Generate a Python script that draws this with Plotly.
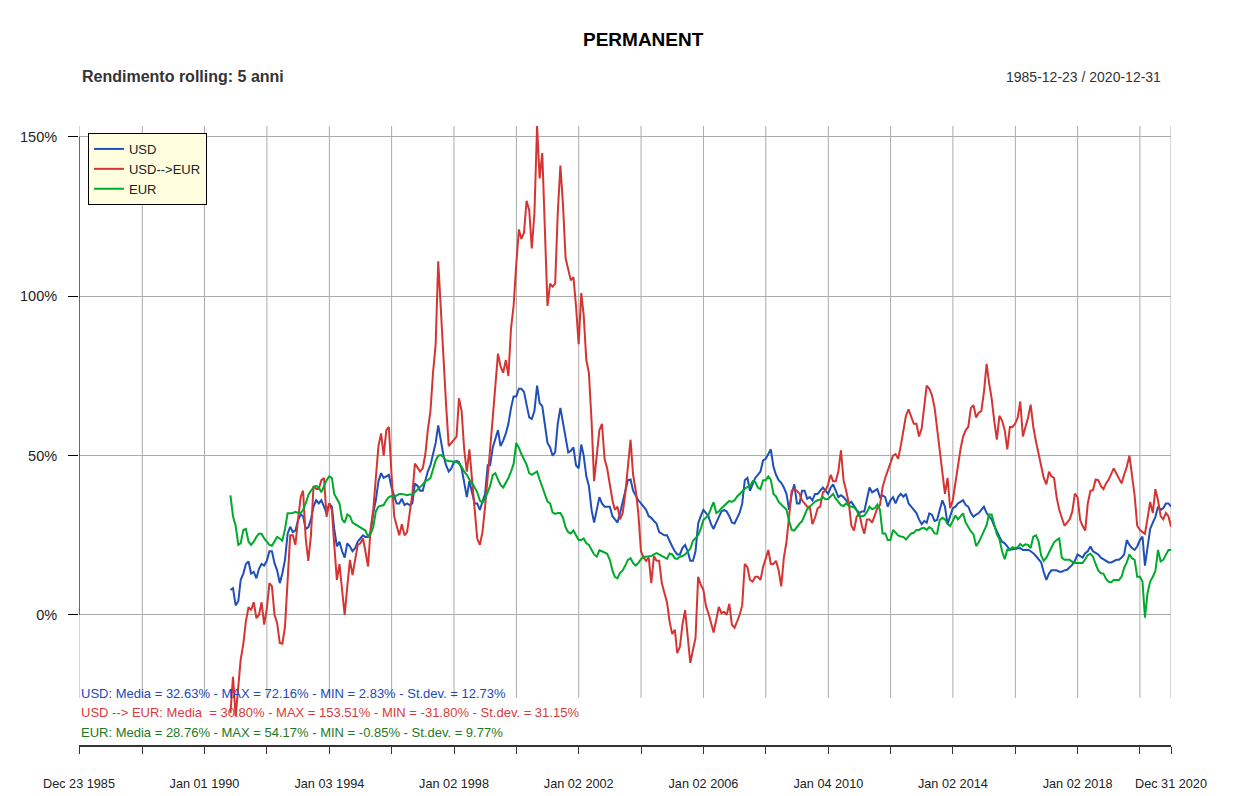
import pandas as pd
import plotly.graph_objects as go

# 5-year rolling return, monthly (Nov 1990 .. Dec 2020) + last day
dates = list(pd.date_range("1990-11-01", "2020-12-01", freq="MS")) + [pd.Timestamp("2020-12-31")]

usd = [
    7.9, 8.4,                                                                # 1990
    3, 4.3, 11, 13, 16, 16.8, 13, 13.5, 11.5, 14.5, 16, 15.5,                # 1991
    17, 20, 20, 16.2, 14, 10, 13, 17.3, 25.5, 27.7, 26, 26.5,                # 1992
    29.8, 31.5, 31, 27, 27.5, 30, 34, 36, 35, 36, 34, 31.9,                  # 1993
    35, 34, 27, 21.5, 23, 20, 18, 22.5, 21.5, 20, 21, 23,                    # 1994
    24, 25, 24.5, 24.5, 26, 32, 36, 42, 44.5, 43, 43.5, 44,                  # 1995
    40, 37, 35, 35, 36.5, 34.5, 35, 34.5, 35, 41.3, 40.5, 39,                # 1996
    39, 42.3, 45, 47, 50, 54, 59.5, 55, 50, 47, 45, 46,                      # 1997
    48, 48.4, 48, 46, 42, 37, 42, 38, 35, 35, 33, 35.5,                      # 1998
    38, 47, 47, 52.6, 55, 58, 53, 54.7, 57, 60, 65, 68.6,                    # 1999
    68.6, 71, 71, 70, 66, 62, 61.5, 64, 72, 66.5, 65.5, 60,                  # 2000
    54, 52.6, 50, 51, 60, 65, 60, 55, 51, 51.5, 52.6, 47,                    # 2001
    46, 53.5, 50, 43.5, 40.5, 33, 29, 33, 37, 35, 34, 34,                    # 2002
    34, 31, 30, 29, 32, 35.5, 39, 42.3, 42.5, 39, 37.5, 36,                  # 2003
    35, 34, 33, 31, 30.5, 29.5, 28.7, 26, 25.6, 25, 25, 23,                  # 2004
    21.5, 20, 19, 19, 21, 22, 20, 17, 17, 20, 28.7, 31,                      # 2005
    33, 32, 31, 28.5, 27, 29, 31, 32.5, 33, 32.5, 31, 29,                    # 2006
    28.7, 30.5, 32, 35, 42.3, 43, 39, 41, 43, 44, 45, 48.5,                  # 2007
    49, 50.5, 52, 46.5, 44, 42.3, 41.5, 40, 38, 33, 38, 41,                  # 2008
    35, 35, 39, 39, 36.5, 37, 36, 38, 38, 39, 40, 39,                        # 2009
    38, 40, 41, 39, 37, 37.6, 37, 36, 35, 35.5, 34, 33,                      # 2010
    32, 32.5, 32.5, 36, 40, 38.5, 39, 39.5, 37, 37.5, 37, 34,                # 2011
    36, 37, 35, 37, 38, 37.1, 38, 35, 34, 33, 32, 30,                        # 2012
    28.5, 29.5, 29, 31.9, 31.5, 29.5, 29.8, 33, 36, 34, 28.5, 31,            # 2013
    33.5, 34, 35, 35.5, 36, 34.5, 34, 32, 30.8, 31.5, 32, 33,                # 2014
    34, 32, 31, 30, 28, 26.5, 24.6, 23, 22.5, 21.5, 20.4, 20.6,              # 2015
    20.8, 20.8, 21, 20.4, 20.4, 20.5, 20, 19.4, 18.5, 17.5, 16.5, 13.5,      # 2016
    11, 13, 14, 14, 14, 13.6, 13.6, 14, 14.2, 15, 15.8, 17,                  # 2017
    19, 18.5, 18, 19.4, 20, 21.5, 20, 19.5, 19, 18, 17.5, 16.8,              # 2018
    16.5, 16.5, 17, 17.3, 17.3, 18, 19, 23.5, 22, 21, 20.4, 21.5,            # 2019
    23.5, 24.6, 15.5, 21, 27, 29, 30.8, 34, 33, 33.5, 35, 35,                # 2020
    34,
]

usd_eur = [
    -30.7, -19.4,                                                            # 1990
    -31.8, -22, -14, -9, -2, 2.5, 1.5, 4, -1, 0, 4, -3,                      # 1991
    2, 10, 9, 0, -2.5, -8.8, -9, -3.7, 12, 25, 25, 22,                       # 1992
    30, 37, 39, 24, 17, 25, 40.5, 39.5, 39.5, 42.3, 43, 30.8,                # 1993
    35, 33, 22, 11, 16, 8, 0, 9, 17.3, 12.5, 18, 22,                         # 1994
    22.5, 24, 20, 15.2, 27, 33, 43, 53, 57, 50, 58, 59,                      # 1995
    44, 31, 28, 25, 28.5, 25, 26, 33, 38, 47.5, 46, 45,                      # 1996
    46, 50.6, 58, 64, 76, 85, 111, 96, 78, 66, 53, 54,                       # 1997
    55, 56, 68, 64, 52, 45, 52, 42, 31, 24, 22, 26,                          # 1998
    34, 45, 52, 62, 71, 82, 78, 76, 80, 75, 90, 97,                          # 1999
    110, 121, 118, 120, 130, 127, 115, 126, 153.5, 137, 145, 117.5,          # 2000
    97, 104, 103, 104, 126, 141, 129, 112, 108, 105, 106, 97,                # 2001
    85, 101, 94, 80, 76, 61, 42, 50, 58, 60, 49, 46,                         # 2002
    41, 36, 33, 34, 30, 32, 38, 47, 55, 44, 39, 32,                          # 2003
    20, 18, 17, 18, 10, 18.5, 17, 17, 10, 7, 4, -2,                          # 2004
    -6, -4.6, -12, -10, -3, 1.5, -7, -15, -11, -7.2, 12, 9.5,                # 2005
    7.9, 2.7, 0.6, -3, -5.5, -1.5, 2.5, 0.6, 1, 0, 3.5, -3,                  # 2006
    -4, -2, 0, 3, 16, 15, 11, 10.5, 12, 12, 11, 15,                          # 2007
    18, 20.4, 16, 16, 17, 14, 9, 18, 23, 32, 39, 39.5,                       # 2008
    39, 38, 36, 35, 34, 34, 28.5, 30.5, 33.5, 34, 38.5, 39,                  # 2009
    41, 44, 42, 42, 45, 51.7, 42.3, 39, 35, 28, 26.5, 30.8,                  # 2010
    32, 28, 25.5, 30, 30, 29, 31, 33.5, 34.5, 40, 43, 45.5,                  # 2011
    48, 50, 50.5, 49, 53, 58.5, 62.5, 64.5, 62.5, 60, 60, 56,                # 2012
    58.5, 65, 72, 71, 69, 65.2, 58, 52, 44.4, 38, 43, 33.5,                  # 2013
    36, 42, 46, 52, 55.9, 58, 59, 65, 65.8, 62, 63.5, 64,                    # 2014
    70, 78.8, 73, 68, 61, 55, 62.5, 61, 58, 52, 59, 59,                      # 2015
    60, 62, 67, 56, 59, 62, 66, 59, 54.5, 50.6, 46, 43,                      # 2016
    41, 45, 43.5, 43, 37, 33, 30.5, 28, 29, 30, 32.5, 38.1,                  # 2017
    37, 29.8, 28, 26.5, 35, 39, 39.2, 42.5, 42.3, 40.5, 39.5, 41.3,          # 2018
    42.5, 44.4, 46, 44.4, 43, 41.3, 44, 46.5, 50, 43, 37.5, 28,              # 2019
    26.7, 26, 25.5, 30.5, 35.5, 32, 39.5, 36, 31, 30, 32, 31,                # 2020
    27.7,
]

eur = [
    37.5, 31,                                                                # 1990
    28, 22, 22.5, 26.7, 27, 23, 22, 23, 24.5, 25.5, 25.5, 24,                # 1991
    23, 22, 21.7, 23, 24.5, 24, 23.3, 27, 31.9, 31.9, 32, 32.4,              # 1992
    32, 32, 33, 35, 37.6, 39, 40, 40.5, 40, 38.5, 40.5, 42.3,                # 1993
    43.5, 43, 38, 36.5, 35, 30, 29, 31.5, 31, 29, 28.5, 28,                  # 1994
    27.5, 27, 26.5, 24.6, 25.4, 27.5, 32.5, 34, 34.3, 34.5, 36, 37,          # 1995
    37.3, 37.2, 37.5, 38, 38, 37.7, 37.6, 37.8, 37.9, 38.5, 39.3, 40,        # 1996
    41, 42, 42.3, 43, 46, 48.5, 50, 50.2, 49.5, 48.5, 48.3, 48.2,            # 1997
    48, 48, 47.5, 46.5, 45, 44, 42.5, 41.5, 40, 38.5, 35.9, 35.2,            # 1998
    36.5, 38.5, 40.5, 44, 44.5, 42.5, 40.8, 40, 41.5, 43, 45, 47.4,          # 1999
    54, 52.5, 50.5, 49, 47.2, 44.5, 44, 44.5, 45, 42.5, 40, 37.5,            # 2000
    35.6, 35, 32.2, 31.7, 32, 32, 30.6, 27.5, 26, 25.6, 26.5, 25,            # 2001
    23.5, 23.5, 24, 22.5, 22, 20.5, 19, 18.3, 20.3, 20, 19.7, 19.2,          # 2002
    17.3, 14, 12, 11.5, 13.2, 14, 15.5, 17.3, 17.8, 16.3, 15.5, 16.3,        # 2003
    17.5, 18.3, 18.3, 18.3, 18.5, 19, 19.4, 19, 18.5, 18, 17.6, 19.3,        # 2004
    19, 17.8, 17.6, 18.3, 18.5, 19, 19.8, 20.8, 23.3, 24.3, 25, 27,          # 2005
    29.8, 30.6, 31.3, 33.5, 35.4, 32, 32.5, 33.5, 34.3, 35, 35.8, 35.5,      # 2006
    36, 37.2, 38, 38.8, 39.6, 40.2, 40.3, 42, 41.7, 40, 39.5, 42.3,          # 2007
    42.3, 43.5, 42.5, 38, 37.2, 35.5, 34.6, 34, 33, 29.5, 26.7, 26.5,        # 2008
    27.8, 28.7, 29.4, 31.5, 33.2, 34, 34.8, 35.6, 36, 36.2, 37, 36.3,        # 2009
    36.4, 37.3, 38, 36.5, 35.5, 34.5, 34.2, 35, 34.3, 34, 33.7, 32.9,        # 2010
    31, 31, 31.2, 32.3, 34, 33.2, 33.5, 34.7, 33, 25.6, 25.6, 23.5,          # 2011
    23.5, 26.7, 26, 25, 24.6, 24.5, 23.7, 24.8, 25.6, 25.8, 26.7, 26.7,      # 2012
    27.2, 27.3, 26.7, 27.6, 27, 25.6, 25.5, 29.8, 30.5, 30, 28.5, 27.9,      # 2013
    29.5, 31.2, 30, 31, 31.9, 29, 27.7, 26.2, 25.3, 21.6, 22.8, 24.6,        # 2014
    26, 28.2, 31.5, 31.5, 28.5, 25.3, 23.8, 20, 17.5, 20.5, 20.4, 21.3,      # 2015
    21, 21.3, 22.3, 21.6, 22.2, 22, 21, 24.6, 25, 23.2, 18.7, 17,            # 2016
    18, 19.8, 21.3, 22.8, 23.5, 24, 18, 17.3, 17.3, 17.3, 16.7, 16.3,        # 2017
    16.3, 16.3, 16.3, 17.5, 18.8, 19.2, 18.3, 16, 14, 13.1, 13, 11.3,        # 2018
    10.4, 10.3, 11, 11, 11, 12, 14.8, 16.5, 19, 17.8, 17.3, 12,              # 2019
    12, 10.5, -0.85, 7, 10.5, 12, 13.8, 20.4, 16.8, 17.3, 19, 20.4,          # 2020
    20.4,
]

assert len(usd) == len(usd_eur) == len(eur) == len(dates)

tick_dates = ["1985-12-23", "1988-01-04", "1990-01-01", "1992-01-02", "1994-01-03",
              "1996-01-02", "1998-01-02", "2000-01-03", "2002-01-02", "2004-01-02",
              "2006-01-02", "2008-01-02", "2010-01-04", "2012-01-03", "2014-01-02",
              "2016-01-04", "2018-01-02", "2020-01-02", "2020-12-31"]
tick_text = ["Dec 23 1985", "", "Jan 01 1990", "", "Jan 03 1994", "", "Jan 02 1998", "",
             "Jan 02 2002", "", "Jan 02 2006", "", "Jan 04 2010", "", "Jan 02 2014", "",
             "Jan 02 2018", "", "Dec 31 2020"]

stats = [
    ("USD: Media = 32.63% - MAX = 72.16% - MIN = 2.83% - St.dev. = 12.73%", "#2249B8"),
    ("USD --> EUR: Media  = 30.80% - MAX = 153.51% - MIN = -31.80% - St.dev. = 31.15%", "#D93B3B"),
    ("EUR: Media = 28.76% - MAX = 54.17% - MIN = -0.85% - St.dev. = 9.77%", "#1C7A1C"),
]

FONT = "Liberation Sans, Arial, sans-serif"
series = [("USD", usd, "#1F4FB8"), ("USD-->EUR", usd_eur, "#D53532"), ("EUR", eur, "#00AA2A")]

fig = go.Figure()
for name, vals, col in series:
    fig.add_trace(go.Scatter(x=dates, y=vals, mode="lines", name=name,
                             line=dict(color=col, width=2)))

# vertical grid lines (stop above the stats text)
for d in tick_dates:
    fig.add_shape(type="line", x0=d, x1=d, y0=-26, y1=153.45, xref="x", yref="y",
                  line=dict(color="#ABABAB", width=1), layer="below")
# y axis line from 0% to 150%
fig.add_shape(type="line", x0=tick_dates[0], x1=tick_dates[0], y0=0, y1=150,
              xref="x", yref="y", line=dict(color="black", width=1))

fig.add_annotation(text="<b>PERMANENT</b>", x=0.5165, y=1.139, xref="paper", yref="paper",
                   yanchor="middle", showarrow=False, font=dict(size=19, color="black"))
fig.add_annotation(text="<b>Rendimento rolling: 5 anni</b>", x=0.0009, y=1.0792,
                   xref="paper", yref="paper", xanchor="left", yanchor="middle",
                   showarrow=False, font=dict(size=16, color="#333333"))
fig.add_annotation(text="1985-12-23 / 2020-12-31", x=0.9927, y=1.0792, xref="paper",
                   yref="paper", xanchor="right", yanchor="middle", showarrow=False,
                   font=dict(size=14, color="#333333"))
for (txt, col), yy in zip(stats, [0.0840, 0.0517, 0.0210]):
    fig.add_annotation(text=txt, x=-0.0002, y=yy, xref="paper", yref="paper",
                       xanchor="left", yanchor="middle", showarrow=False,
                       font=dict(size=13, color=col))

fig.update_layout(
    width=1250, height=796,
    # page body adds an 8px offset, so the plot box is shifted up/left to compensate
    margin=dict(l=71, r=87, t=118, b=59),
    paper_bgcolor="white", plot_bgcolor="white",
    font=dict(family=FONT, color="#222222"),
    showlegend=True,
    legend=dict(x=0.0082, y=0.9887, xanchor="left", yanchor="top",
                bgcolor="#FFFFE0", bordercolor="black", borderwidth=1,
                font=dict(size=13, color="#222222")),
)
fig.update_xaxes(range=["1985-12-23", "2020-12-31"], tickvals=tick_dates, ticktext=tick_text,
                 showgrid=False, showline=True, linecolor="#333333", linewidth=2,
                 ticks="outside", ticklen=7, tickcolor="#333333", tickwidth=1,
                 ticklabelstandoff=19, tickfont=dict(size=12.7, color="#222222"))
fig.update_yaxes(range=[-40.8, 153.45], tickvals=[0, 50, 100, 150],
                 ticktext=["0%", "50%", "100%", "150%"],
                 showgrid=True, gridcolor="#ABABAB", gridwidth=1, zeroline=False,
                 showline=False, ticks="outside", ticklen=10, tickcolor="black",
                 ticklabelstandoff=8, tickfont=dict(size=14.5, color="#222222"))

fig.write_html("out.html")
